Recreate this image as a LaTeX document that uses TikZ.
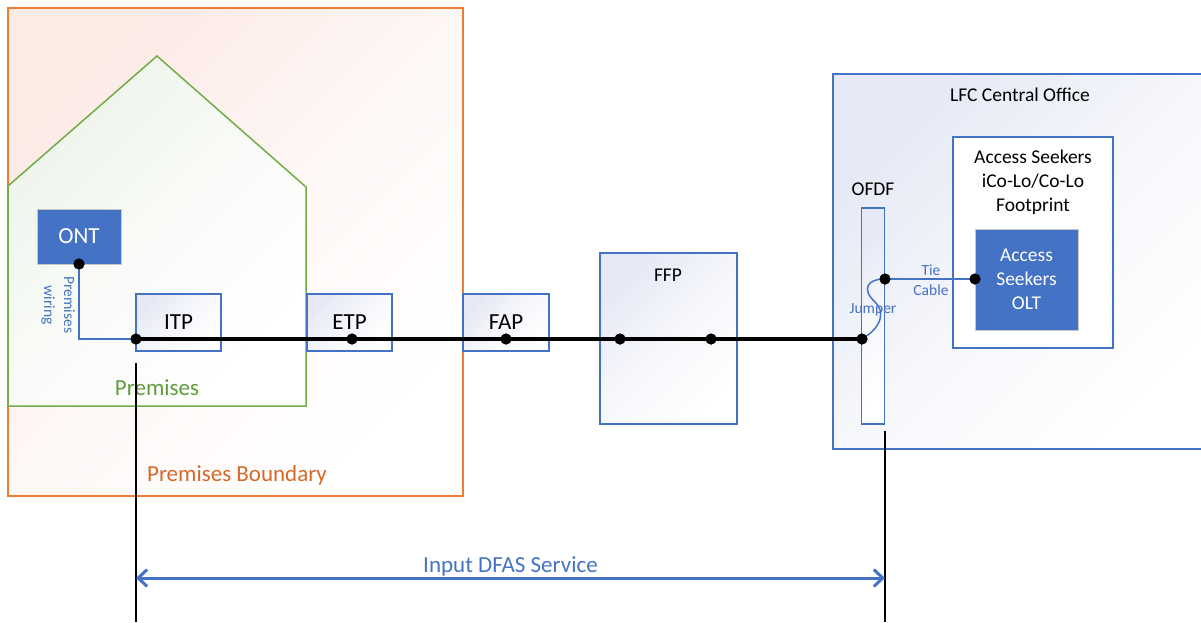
\documentclass[tikz,border=0pt]{standalone}
\usepackage{fontspec}
\setmainfont{Carlito}
\usetikzlibrary{arrows.meta}

\definecolor{accblue}{HTML}{4472C4}
\definecolor{lineorange}{HTML}{ED7D31}
\definecolor{txtorange}{HTML}{D4692A}
\definecolor{housegreen}{HTML}{70AD47}
\definecolor{txtgreen}{HTML}{5F9E3C}
\definecolor{shadeblue}{HTML}{E6E9F5}
\definecolor{shadepink}{HTML}{FCEAE5}
\definecolor{shadegreen}{HTML}{EDF3EA}

\tikzset{
  big/.style={font=\fontsize{23}{27}\selectfont},
  mid/.style={font=\fontsize{19.5}{24}\selectfont},
  small/.style={font=\fontsize{15.5}{20}\selectfont},
  fade/.style={top color=#1, bottom color=white, middle color=#1!35, shading angle=45},
  tpbox/.style={draw=accblue, line width=1.3, fade=shadeblue, inner sep=0, big},
  unit/.style={draw=black!22, line width=1, fill=accblue, text=white, inner sep=0,
    align=center},
  dot/.style={circle, fill=black, inner sep=0, minimum size=11},
  fibre/.style={line width=3.5},
  wire/.style={accblue, line width=1.5},
  wirelabel/.style={small, text=accblue, align=center, inner sep=0},
  marker/.style={line width=1.5},
}

\begin{document}
\begin{tikzpicture}[x=1pt, y=-1pt]
\useasboundingbox (0,0) rectangle (1201,622);

% premises boundary and house
\shade[draw=lineorange, line width=1.5, fade=shadepink] (8,8) rectangle (463,496);
\shade[draw=housegreen, line width=1.5, fade=shadegreen]
  (8,186) -- (157,56) -- (306,187) -- (306,406) -- (8,406) -- cycle;
\node[big, text=txtorange] (bndlbl) at (237,475) {Premises Boundary};
\node[big, text=txtgreen] (premlbl) at (157,388) {Premises};

% central office
\shade[draw=accblue, line width=1.3, fade=shadeblue] (833,74) rectangle (1215,449);
\node[mid] (colbl) at (1020,95) {LFC Central Office};
\node[draw=accblue, line width=1.3, fill=white, minimum width=160, minimum height=211] (foot) at (1033,242.5) {};
\node[mid, align=center] (footlbl) at (1033,182) {Access Seekers\\iCo-Lo/Co-Lo\\Footprint};
\node[unit, mid, minimum width=103, minimum height=101] (olt) at (1026.5,279.5) {Access\\Seekers\\OLT};

% termination points
\node[unit, big, minimum width=84, minimum height=55] (ont) at (79,236.5) {ONT};
\node[tpbox, minimum width=85, minimum height=57] (itp) at (178.5,322.5) {ITP};
\node[tpbox, minimum width=85, minimum height=57] (etp) at (349.5,322.5) {ETP};
\node[tpbox, minimum width=86, minimum height=57] (fap) at (506,322.5) {FAP};
\node[tpbox, minimum width=137, minimum height=171] (ffp) at (668.5,338.5) {};
\node[mid] (ffplbl) at (668,275) {FFP};
\node[tpbox, minimum width=23, minimum height=216] (ofdf) at (873,316) {};
\node[mid] (ofdflbl) at (873,189) {OFDF};

% splice dots
\node[dot] (dont) at (79,264) {};
\node[dot] (ditp) at (136,339) {};
\node[dot] (detp) at (352,339) {};
\node[dot] (dfap) at (506,339) {};
\node[dot] (dffpa) at (620,339) {};
\node[dot] (dffpb) at (711,339) {};
\node[dot] (dline) at (862,339) {};
\node[dot] (dpatch) at (885,279) {};
\node[dot] (dolt) at (975,279) {};

% fibre path
\draw[fibre] (ditp.center) -- (dline.center);
\draw[wire] (dont.center) |- (ditp.center);
\node[wirelabel, rotate=-90] (wirelbl) at (58,305) {Premises\\wiring};
\draw[wire] (dline.center) .. controls (884,326) and (884,310) .. (875,302)
  .. controls (862,290) and (866,279) .. (dpatch.center);
\node[wirelabel] (jmplbl) at (873,310) {Jumper};
\draw[wire] (dpatch.center) -- (dolt.center);
\node[wirelabel] (tielbl) at (931,280) {Tie\\Cable};

% redraw dots over the lines
\foreach \d in {dont,ditp,detp,dfap,dffpa,dffpb,dline,dpatch,dolt}
  \fill (\d) circle (5.5);

% service extent
\coordinate (svcAtop) at (136,363);
\coordinate (svcAbot) at (136,622);
\coordinate (svcBtop) at (885,431);
\coordinate (svcBbot) at (885,622);
\draw[marker] (svcAtop) -- (svcAbot);
\draw[marker] (svcBtop) -- (svcBbot);
\draw[accblue, line width=3, {Straight Barb[length=9,width=17]}-{Straight Barb[length=9,width=17]}]
  (136,578) -- (885,578);
\node[big, text=accblue] (svclbl) at (510.5,566) {Input DFAS Service};
\end{tikzpicture}
\end{document}
